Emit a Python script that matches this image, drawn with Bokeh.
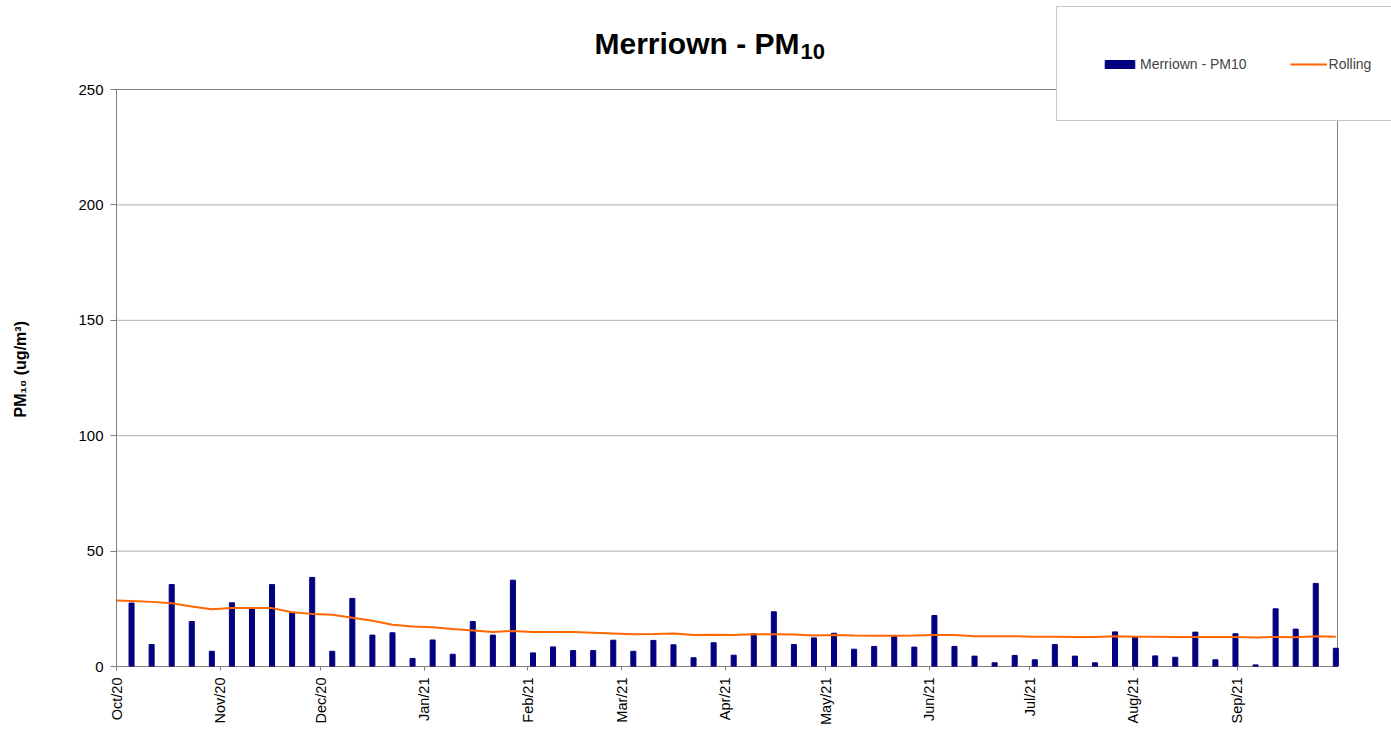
import pandas as pd
from math import pi
from bokeh.plotting import figure
from bokeh.models import (Range1d, Legend, LegendItem, ColumnDataSource, Label, Title,
                          DatetimeTickFormatter, FixedTicker)
from bokeh.embed import file_html
from bokeh.resources import INLINE

# ---------------- data ----------------
bar_dates = pd.date_range("2020-10-05 12:00", periods=61, freq="6D")
pm10 = [27.5, 9.5, 35.5, 19.5, 6.6, 27.6, 25.4, 35.5, 23.5, 38.6,
        6.6, 29.5, 13.6, 14.6, 3.5, 11.5, 5.3, 19.5, 13.6, 37.4,
        5.9, 8.5, 6.9, 6.9, 11.4, 6.6, 11.3, 9.4, 3.8, 10.3,
        4.9, 14.2, 23.7, 9.5, 12.4, 14.4, 7.5, 8.7, 13.0, 8.4,
        22.1, 8.7, 4.5, 1.6, 4.8, 2.9, 9.5, 4.5, 1.6, 15.0,
        12.9, 4.6, 4.0, 14.9, 2.9, 14.2, 0.7, 25.0, 16.2, 36.0,
        7.9]
rolling_dates = [pd.Timestamp("2020-10-01")] + list(bar_dates)
rolling = [28.6,
           28.4, 28.0, 27.4, 26.0, 24.8, 25.3, 25.3, 25.3, 23.5, 22.8,
           22.4, 21.1, 19.8, 18.1, 17.3, 17.0, 16.2, 15.6, 15.0, 15.4,
           14.9, 14.9, 14.9, 14.6, 14.3, 14.0, 14.1, 14.3, 13.7, 13.8,
           13.7, 14.0, 14.0, 13.9, 13.4, 13.6, 13.4, 13.3, 13.3, 13.4,
           13.7, 13.6, 13.1, 13.1, 13.1, 12.9, 12.9, 12.8, 12.8, 13.1,
           12.9, 12.9, 12.8, 12.8, 12.8, 12.8, 12.6, 12.8, 12.7, 13.1,
           12.9]
month_ticks = pd.date_range("2020-10-01", periods=12, freq="MS")
y_ticks = [0, 50, 100, 150, 200, 250]
series_names = ["Merriown - PM10", "Rolling"]
title_main, title_sub = "Merriown - PM", "10"
y_label_text = "PM\u2081\u2080 (ug/m\u00b3)"

FONT = "Liberation Sans"
DAY_MS = 86400000

# visible plot box (what the reference frames) inside a larger frame that also
# holds the title and legend
W, H = 1391, 730
LEFT, BOTTOM = 116, 64
BOX_W, BOX_H = 1221, 577
FRAME_W, FRAME_H = W - LEFT, H - BOTTOM
x_start = pd.Timestamp("2020-10-01")
x_stop = pd.Timestamp("2021-10-01")
y_top = y_ticks[-1]
x_frame_end = x_start + (x_stop - x_start) * (FRAME_W / BOX_W)
y_frame_end = y_top * FRAME_H / BOX_H

bar_src = ColumnDataSource(dict(date=bar_dates, pm10=pm10))
line_src = ColumnDataSource(dict(date=rolling_dates, rolling=rolling))

p = figure(width=W, height=H, x_axis_type="datetime",
           x_range=Range1d(x_start, x_frame_end),
           y_range=Range1d(0, y_frame_end),
           output_backend="svg", toolbar_location=None,
           min_border_left=LEFT, min_border_right=0,
           min_border_top=0, min_border_bottom=BOTTOM)
p.background_fill_color = "white"
p.border_fill_color = "white"
p.outline_line_color = None
p.xgrid.visible = False
p.ygrid.visible = False

# grid lines and plot box
n = len(y_ticks) - 2
p.segment(x0=[x_start] * n, x1=[x_stop] * n, y0=y_ticks[1:-1], y1=y_ticks[1:-1],
          line_color="#b0b0b0", line_width=1)
p.segment(x0=[x_start, x_stop], x1=[x_stop, x_stop], y0=[y_top, 0], y1=[y_top, y_top],
          line_color="#808080", line_width=1)

bars = p.vbar(x="date", top="pm10", bottom=0, width=1.5 * DAY_MS, source=bar_src,
              fill_color="#000080", line_color="#000080")
line = p.line(x="date", y="rolling", source=line_src, line_color="#FF6600", line_width=2)

# axis lines (limited to the visible box)
p.segment(x0=[x_start, x_start], x1=[x_start, x_stop], y0=[0, 0], y1=[y_top, 0],
          line_color="black", line_width=1)

# title with true subscript
p.add_layout(Label(x=683, y=623, x_units="screen", y_units="screen", text=title_main,
                   text_align="right", text_baseline="alphabetic", text_font=FONT,
                   text_font_size="30px", text_font_style="bold", text_color="black"))
p.add_layout(Label(x=684, y=615, x_units="screen", y_units="screen", text=title_sub,
                   text_align="left", text_baseline="alphabetic", text_font=FONT,
                   text_font_size="22px", text_font_style="bold", text_color="black"))

# x axis
p.xaxis.ticker = FixedTicker(ticks=(month_ticks.astype("int64") // 10**6).tolist())
fmt = "%b/%y"
p.xaxis.formatter = DatetimeTickFormatter(years=fmt, months=fmt, days=fmt, hours=fmt,
                                          minutes=fmt, seconds=fmt, milliseconds=fmt,
                                          microseconds=fmt, hourmin=fmt, minsec=fmt)
p.xaxis.major_label_orientation = pi / 2
p.xaxis.major_label_text_font = FONT
p.xaxis.major_label_text_font_size = "14.5px"
p.xaxis.major_label_text_color = "black"
p.xaxis.major_label_standoff = 7
p.xaxis.axis_line_color = None
p.xaxis.major_tick_line_color = "#808080"
p.xaxis.major_tick_out = 4
p.xaxis.major_tick_in = 0
p.xaxis.minor_tick_line_color = None

# y axis (a blank axis label only reserves room so the side title sits further out)
p.yaxis.ticker = FixedTicker(ticks=y_ticks)
p.yaxis.major_label_text_font = FONT
p.yaxis.major_label_text_font_size = "15px"
p.yaxis.major_label_text_color = "black"
p.yaxis.major_label_standoff = 7
p.yaxis.axis_line_color = None
p.yaxis.major_tick_line_color = "#808080"
p.yaxis.major_tick_out = 6
p.yaxis.major_tick_in = 0
p.yaxis.minor_tick_line_color = None
p.yaxis.axis_label = "\u00a0"
p.yaxis.axis_label_text_font = FONT
p.yaxis.axis_label_text_font_size = "15px"
p.yaxis.axis_label_standoff = 26

# y axis label as a side title (can be shifted along the axis)
p.add_layout(Title(text=y_label_text, align="left", offset=249, standoff=0,
                   vertical_align="middle",
                   text_font=FONT, text_font_size="16px", text_font_style="bold",
                   text_color="black"), "left")

legend = Legend(items=[LegendItem(label=series_names[0], renderers=[bars]),
                       LegendItem(label=series_names[1], renderers=[line])],
                location=(940, 545), orientation="horizontal",
                padding=44, spacing=43, margin=0,
                glyph_width=37, glyph_height=10, label_standoff=2,
                label_height=25,
                label_text_font=FONT, label_text_font_size="14px",
                border_line_color="#909090", border_line_width=1,
                background_fill_color="white", background_fill_alpha=1.0)
p.add_layout(legend)

open("out.html", "w").write(file_html(p, INLINE))
